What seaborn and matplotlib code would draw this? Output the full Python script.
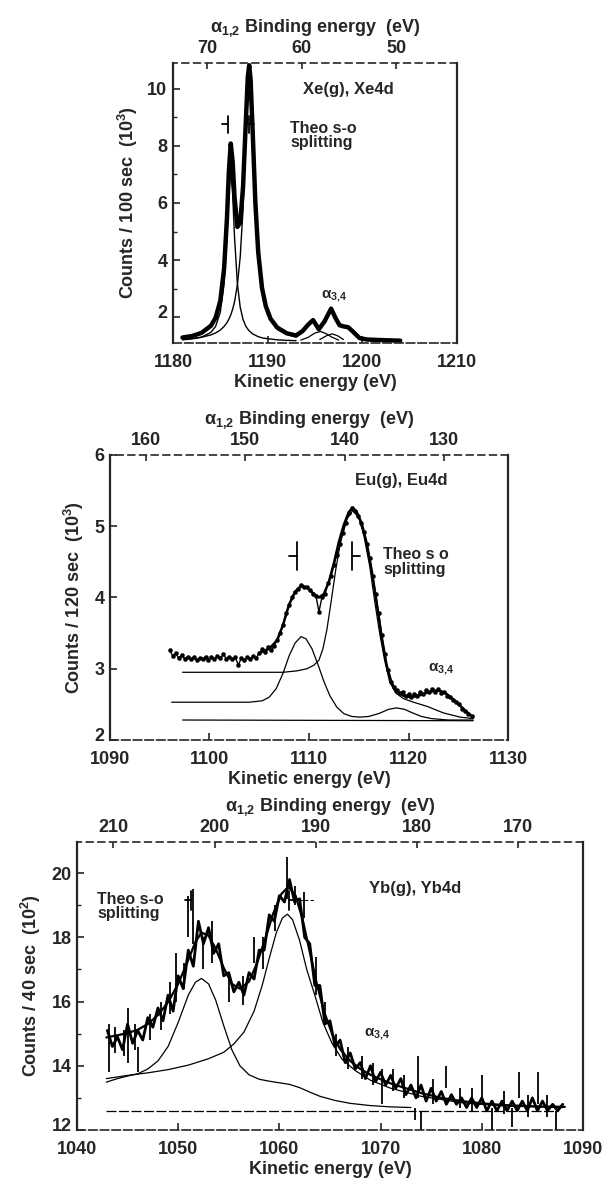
import matplotlib
matplotlib.use("Agg")
import matplotlib.pyplot as plt
import matplotlib.transforms as mtransforms
import seaborn as sns

PHOTON = 1253.6  # Mg K alpha 1,2 photon energy, binding = PHOTON - kinetic

# ---------------- Xe(g), Xe 4d ----------------
xe_ke = [1181.0, 1182.0, 1183.0, 1184.0, 1184.5, 1185.0, 1185.4, 1185.7, 1185.9, 1186.1,
         1186.3, 1186.5, 1186.8, 1187.1, 1187.4, 1187.7, 1187.9, 1188.05, 1188.2, 1188.4,
         1188.7, 1189.0, 1189.4, 1189.8, 1190.3, 1191.0, 1192.0, 1193.0, 1193.7, 1194.3,
         1194.8, 1195.4, 1196.0, 1196.7, 1197.2, 1197.6, 1198.0, 1198.5, 1199.0, 1199.7,
         1200.5, 1202.0, 1204.0]
xe_counts = [1.29, 1.34, 1.45, 1.70, 1.98, 2.58, 3.71, 5.47, 7.10, 8.08,
             7.45, 6.20, 5.16, 5.31, 6.57, 8.89, 10.41, 10.82, 10.30, 8.63,
             6.01, 4.28, 3.03, 2.39, 1.95, 1.64, 1.44, 1.36, 1.52, 1.75,
             1.90, 1.58, 1.85, 2.30, 1.95, 1.72, 1.68, 1.65, 1.50, 1.27,
             1.22, 1.20, 1.18]
xe_fit_ke = [1181.0, 1182.0, 1183.0, 1184.0, 1184.5, 1185.0, 1185.4, 1185.7, 1185.9, 1186.1,
             1186.3, 1186.5, 1186.8, 1187.1, 1187.4, 1187.7, 1188.0, 1188.4, 1189.0, 1189.5,
             1190.0, 1191.0, 1192.0, 1193.0]
xe_fit_a = [1.21, 1.24, 1.30, 1.47, 1.68, 2.18, 3.18, 4.81, 6.32, 7.15,
            6.32, 4.81, 3.18, 2.35, 1.92, 1.68, 1.54, 1.42, 1.32, 1.27,
            1.25, 1.21, 1.19, 1.18]
xe_fit_b = [1.23, 1.26, 1.30, 1.38, 1.45, 1.55, 1.68, 1.81, 1.93, 2.08,
            2.28, 2.54, 3.13, 4.11, 5.80, 8.36, 10.40, 8.36, 4.11, 2.71,
            2.08, 1.58, 1.40, 1.31]
xe_sat1_ke = [1193.5, 1194.3, 1195.0, 1195.6, 1196.2, 1196.8, 1197.5]
xe_sat1 = [1.20, 1.30, 1.45, 1.50, 1.42, 1.30, 1.20]
xe_sat2_ke = [1195.5, 1196.2, 1196.8, 1197.4, 1198.0]
xe_sat2 = [1.22, 1.35, 1.42, 1.35, 1.22]
xe_theo_ke = [1185.8, 1188.0]
xe_theo_level = 8.75

# ---------------- Eu(g), Eu 4d ----------------
eu_ke = [1096.0, 1096.3, 1096.6, 1096.9, 1097.2, 1097.5, 1097.8, 1098.1, 1098.4, 1098.7,
         1099.0, 1099.3, 1099.6, 1099.9, 1100.2, 1100.5, 1100.8, 1101.1, 1101.4, 1101.7,
         1102.0, 1102.3, 1102.6, 1102.9, 1103.2, 1103.5, 1103.8, 1104.1, 1104.4, 1104.7,
         1105.0, 1105.3, 1105.6, 1105.9, 1106.2, 1106.5, 1106.8, 1107.1, 1107.4, 1107.7,
         1108.0, 1108.3, 1108.6, 1108.9, 1109.2, 1109.5, 1109.8, 1110.1, 1110.4, 1110.7,
         1111.0, 1111.3, 1111.6, 1111.9, 1112.2, 1112.5, 1112.8, 1113.1, 1113.4, 1113.7,
         1114.0, 1114.3, 1114.6, 1114.9, 1115.2, 1115.5, 1115.8, 1116.1, 1116.4, 1116.7,
         1117.0, 1117.3, 1117.6, 1117.9, 1118.2, 1118.5, 1118.8, 1119.1, 1119.4, 1119.7,
         1120.0, 1120.3, 1120.6, 1120.9, 1121.2, 1121.5, 1121.8, 1122.1, 1122.4, 1122.7,
         1123.0, 1123.3, 1123.6, 1123.9, 1124.2, 1124.5, 1124.8, 1125.1, 1125.4, 1125.7,
         1126.0, 1126.4]
eu_counts = [3.26, 3.18, 3.22, 3.15, 3.19, 3.14, 3.17, 3.13, 3.16, 3.12,
             3.15, 3.13, 3.17, 3.12, 3.16, 3.14, 3.18, 3.15, 3.20, 3.14,
             3.17, 3.13, 3.16, 3.05, 3.15, 3.12, 3.16, 3.14, 3.18, 3.15,
             3.22, 3.27, 3.24, 3.30, 3.26, 3.32, 3.40, 3.50, 3.62, 3.78,
             3.90, 4.00, 4.08, 4.12, 4.18, 4.15, 4.14, 4.10, 4.05, 4.02,
             3.80, 4.00, 4.05, 4.20, 4.30, 4.45, 4.60, 4.75, 4.90, 5.05,
             5.18, 5.25, 5.22, 5.15, 5.05, 4.92, 4.75, 4.55, 4.30, 4.05,
             3.78, 3.48, 3.20, 2.98, 2.82, 2.74, 2.70, 2.66, 2.68, 2.62,
             2.64, 2.60, 2.65, 2.62, 2.68, 2.64, 2.70, 2.67, 2.72, 2.68,
             2.72, 2.66, 2.68, 2.62, 2.60, 2.56, 2.53, 2.50, 2.44, 2.40,
             2.36, 2.33]
eu_fit_ke = [1105.0, 1106.0, 1106.8, 1107.4, 1108.0, 1108.6, 1109.2, 1109.8, 1110.4, 1111.0,
             1111.5, 1112.0, 1112.5, 1113.0, 1113.5, 1114.0, 1114.4, 1114.8, 1115.3, 1115.8,
             1116.3, 1116.8, 1117.3, 1117.8, 1118.3, 1118.8, 1119.5, 1120.2, 1121.0, 1121.8,
             1122.6, 1123.2, 1123.8, 1124.5, 1125.2, 1125.8, 1126.5]
eu_fit = [3.22, 3.28, 3.40, 3.62, 3.90, 4.08, 4.16, 4.14, 4.06, 4.00,
          4.05, 4.22, 4.48, 4.78, 5.02, 5.20, 5.26, 5.20, 5.04, 4.76,
          4.38, 3.92, 3.45, 3.05, 2.80, 2.68, 2.62, 2.60, 2.62, 2.66,
          2.69, 2.69, 2.65, 2.57, 2.48, 2.40, 2.32]
eu_a_ke = [1096.2, 1104.0, 1105.3, 1106.0, 1106.7, 1107.4, 1108.0, 1108.6, 1109.2, 1109.7,
           1110.3, 1110.9, 1111.5, 1112.1, 1112.8, 1113.5, 1114.3, 1115.1, 1116.0, 1117.0,
           1118.0, 1118.8, 1119.6, 1120.4, 1121.3, 1122.3, 1124.0, 1126.5]
eu_a = [2.53, 2.53, 2.55, 2.60, 2.72, 2.94, 3.18, 3.36, 3.45, 3.42,
        3.28, 3.06, 2.82, 2.62, 2.46, 2.37, 2.33, 2.32, 2.33, 2.37,
        2.43, 2.45, 2.43, 2.38, 2.33, 2.30, 2.28, 2.28]
eu_b_ke = [1097.3, 1103.0, 1107.4, 1108.8, 1109.8, 1110.5, 1111.0, 1111.4, 1111.8, 1112.2,
           1112.7, 1113.2, 1113.8, 1114.4, 1115.0, 1115.5, 1116.1, 1116.6, 1117.1, 1117.6,
           1118.1, 1118.7, 1119.5, 1120.5, 1121.9, 1123.5, 1125.2, 1126.5]
eu_b = [2.95, 2.95, 2.95, 2.97, 3.00, 3.05, 3.12, 3.28, 3.55, 3.92,
        4.40, 4.80, 5.10, 5.22, 5.12, 4.88, 4.44, 3.95, 3.50, 3.12,
        2.82, 2.66, 2.58, 2.53, 2.47, 2.38, 2.32, 2.30]
eu_base_ke = [1097.3, 1126.5]
eu_base = [2.28, 2.27]
eu_theo_ke = [1108.8, 1114.3]
eu_theo_level = 4.58

# ---------------- Yb(g), Yb 4d ----------------
yb_ke = [1043.0, 1043.5, 1044.0, 1044.5, 1045.0, 1045.5, 1046.0, 1046.5, 1047.0, 1047.5,
         1048.0, 1048.5, 1049.0, 1049.5, 1050.0, 1050.5, 1051.0, 1051.5, 1052.0, 1052.5,
         1053.0, 1053.5, 1054.0, 1054.5, 1055.0, 1055.5, 1056.0, 1056.5, 1057.0, 1057.5,
         1058.0, 1058.5, 1059.0, 1059.5, 1060.0, 1060.5, 1061.0, 1061.5, 1062.0, 1062.5,
         1063.0, 1063.5, 1064.0, 1064.5, 1065.0, 1065.5, 1066.0, 1066.5, 1067.0, 1067.5,
         1068.0, 1068.5, 1069.0, 1069.5, 1070.0, 1070.5, 1071.0, 1071.5, 1072.0, 1072.5,
         1073.0, 1073.5, 1074.0, 1074.5, 1075.0, 1075.5, 1076.0, 1076.5, 1077.0, 1077.5,
         1078.0, 1078.5, 1079.0, 1079.5, 1080.0, 1080.5, 1081.0, 1081.5, 1082.0, 1082.5,
         1083.0, 1083.5, 1084.0, 1084.5, 1085.0, 1085.5, 1086.0, 1086.5, 1087.0, 1087.5,
         1088.0]
yb_counts = [15.1, 14.6, 14.9, 14.5, 15.3, 14.7, 15.1, 14.8, 15.5, 15.2,
             15.8, 15.4, 16.2, 15.7, 16.8, 16.4, 17.6, 17.1, 18.5, 17.8,
             18.3, 17.5, 17.8, 16.8, 16.9, 16.3, 16.6, 16.2, 16.9, 16.7,
             17.6, 17.6, 18.7, 18.5, 19.3, 19.1, 19.8, 19.1, 19.2, 18.0,
             17.8, 16.5, 16.5, 15.3, 15.4, 14.6, 14.8, 14.1, 14.4, 13.9,
             14.1, 13.6, 14.0, 13.5, 13.8, 13.4, 13.7, 13.3, 13.6, 13.1,
             13.4, 13.0, 13.4, 12.9, 13.3, 12.9, 13.2, 12.8, 13.1, 12.8,
             13.0, 12.7, 13.0, 12.7, 13.0, 12.6, 12.9, 12.6, 12.9, 12.6,
             12.9, 12.6, 12.9, 12.6, 13.0, 12.6, 12.9, 12.6, 12.8, 12.6,
             12.8]
yb_spike_ke = [1043.2, 1043.8, 1044.6, 1045.0, 1045.7, 1046.0, 1047.2, 1048.3, 1049.2, 1049.8,
               1050.6, 1051.0, 1051.5, 1052.5, 1053.3, 1055.0, 1056.4, 1057.5, 1058.4, 1059.6,
               1060.8, 1061.5, 1062.4, 1063.6, 1064.5, 1065.6, 1066.8, 1068.2, 1069.3, 1070.1,
               1071.2, 1072.3, 1073.4, 1073.7, 1074.0, 1075.2, 1076.5, 1077.8, 1079.0, 1080.0,
               1081.0, 1082.2, 1083.0, 1083.7, 1084.6, 1085.6, 1086.4, 1087.3]
yb_spike_lo = [13.8, 14.4, 14.3, 14.1, 14.5, 13.8, 14.8, 15.1, 15.6, 16.0,
               16.4, 18.0, 17.8, 17.0, 17.2, 16.0, 15.9, 17.2, 17.0, 18.2,
               19.2, 19.0, 18.6, 16.2, 15.3, 14.3, 13.9, 13.6, 13.4, 12.8,
               13.2, 13.0, 12.3, 13.0, 12.0, 12.8, 13.3, 12.7, 12.6, 13.0,
               12.0, 12.5, 12.1, 13.0, 12.4, 12.8, 12.4, 12.0]
yb_spike_hi = [15.3, 15.2, 15.1, 15.8, 15.3, 14.6, 15.6, 16.0, 16.6, 17.5,
               17.2, 19.3, 19.5, 18.0, 18.5, 16.8, 16.8, 18.0, 18.0, 19.0,
               20.5, 19.6, 19.4, 17.4, 16.0, 15.0, 14.6, 14.3, 14.1, 13.9,
               13.9, 13.7, 12.7, 14.3, 12.6, 13.6, 14.0, 13.3, 13.3, 13.7,
               12.7, 13.2, 12.7, 13.8, 13.1, 13.8, 13.1, 12.6]
yb_fit_ke = [1042.9, 1044.0, 1045.0, 1046.0, 1047.0, 1048.0, 1049.0, 1050.0, 1051.0, 1051.7,
             1052.3, 1053.0, 1053.7, 1054.5, 1055.3, 1056.1, 1057.0, 1057.8, 1058.6, 1059.4,
             1060.2, 1060.9, 1061.6, 1062.3, 1063.0, 1063.7, 1064.4, 1065.2, 1066.0, 1067.0,
             1068.0, 1069.0, 1070.0, 1071.0, 1072.5, 1074.0, 1076.0, 1078.0, 1080.0, 1082.0,
             1084.0, 1086.0, 1088.2]
yb_fit = [14.88, 14.95, 15.02, 15.12, 15.30, 15.58, 15.98, 16.55, 17.30, 17.85,
          18.15, 18.05, 17.65, 17.05, 16.55, 16.40, 16.62, 17.20, 17.95, 18.75,
          19.35, 19.58, 19.30, 18.55, 17.55, 16.55, 15.70, 15.00, 14.52, 14.15,
          13.90, 13.72, 13.58, 13.45, 13.30, 13.15, 13.00, 12.90, 12.83, 12.78,
          12.75, 12.73, 12.72]
yb_a_ke = [1042.9, 1044.0, 1045.0, 1046.0, 1047.0, 1048.0, 1049.0, 1050.0, 1051.0, 1051.7,
           1052.3, 1053.0, 1053.7, 1054.5, 1055.3, 1056.1, 1057.0, 1058.0, 1059.0, 1060.0,
           1061.0, 1062.0, 1063.0, 1064.0, 1065.5, 1067.0, 1069.0, 1071.0, 1073.0]
yb_a = [13.49, 13.60, 13.68, 13.75, 13.90, 14.15, 14.60, 15.35, 16.20, 16.60,
        16.72, 16.55, 16.05, 15.25, 14.50, 14.00, 13.72, 13.58, 13.52, 13.47,
        13.42, 13.32, 13.18, 13.05, 12.92, 12.83, 12.76, 12.72, 12.70]
yb_b_ke = [1042.9, 1045.0, 1047.0, 1049.0, 1051.0, 1053.0, 1054.5, 1055.5, 1056.5, 1057.5,
           1058.3, 1059.0, 1059.7, 1060.3, 1060.8, 1061.3, 1062.0, 1062.7, 1063.5, 1064.3,
           1065.2, 1066.2, 1067.5, 1069.0, 1071.0, 1074.0, 1078.0, 1082.0, 1088.0]
yb_b = [13.60, 13.70, 13.78, 13.88, 14.02, 14.22, 14.42, 14.68, 15.05, 15.70,
        16.50, 17.35, 18.15, 18.60, 18.72, 18.55, 17.90, 17.00, 16.20, 15.35,
        14.70, 14.20, 13.85, 13.55, 13.30, 13.05, 12.85, 12.75, 12.70]
yb_base_ke = [1042.9, 1087.5]
yb_base = [12.58, 12.58]
yb_theo_ke = [1051.3, 1061.0]
yb_theo_level = 19.15

sns.set_style("ticks")
plt.rcParams["font.family"] = ["Liberation Sans", "DejaVu Sans"]
plt.rcParams["font.weight"] = "bold"
plt.rcParams["mathtext.default"] = "regular"

fig = plt.figure(figsize=(6.1, 11.83), dpi=100)


def line(ax, x, y, lw, ls="-"):
    sns.lineplot(x=x, y=y, ax=ax, color="black", linewidth=lw, linestyle=ls,
                 sort=False, estimator=None)


def theo(ax, ke, level, hh, tw, right_dash=False):
    # "Theo s-o splitting" markers: -| at the first line, |- at the second
    ax.plot([ke[0], ke[0]], [level - hh, level + hh], color="black", lw=1.3)
    ax.plot([ke[0] - tw, ke[0]], [level, level], color="black", lw=1.3)
    ax.plot([ke[1], ke[1]], [level - hh, level + hh], color="black", lw=1.3)
    ax.plot([ke[1], ke[1] + tw], [level, level], color="black", lw=1.3)
    if right_dash:
        ax.plot([ke[1] + tw * 1.5, ke[1] + tw * 4], [level, level], color="black",
                lw=0.8, ls=(0, (3, 2)))


def frame(ax, xlim, ylim, xticks, yticks, top_ticks, ylabel, ypad, minor=None):
    ax.set_xlim(*xlim)
    ax.set_ylim(*ylim)
    ax.set_xticks(xticks)
    ax.set_yticks(yticks)
    if minor is not None:
        ax.set_yticks(minor, minor=True)
    ax.tick_params(direction="in", length=5, width=1.2, labelsize=13)
    ax.tick_params(axis="x", pad=8)
    ax.tick_params(axis="y", pad=4)
    ax.tick_params(which="minor", direction="in", length=3, width=1.0)
    ax.set_xlabel("Kinetic energy (eV)", fontsize=13, fontweight="bold", labelpad=2)
    ax.set_ylabel(ylabel, fontsize=13, fontweight="bold", labelpad=ypad)
    # lowest count label sits a little above the corner, clear of the energy labels
    lowest = ax.get_yticklabels()[0]
    lowest.set_transform(lowest.get_transform() +
                         mtransforms.ScaledTranslation(0, 4 / 72, fig.dpi_scale_trans))
    for s in ["left", "right"]:
        ax.spines[s].set_linewidth(1.6)
    ax.spines["bottom"].set_linewidth(1.2)
    ax.spines["bottom"].set_linestyle((0, (5, 2)))
    ax.spines["top"].set_visible(False)
    sec = ax.secondary_xaxis("top", functions=(lambda k: PHOTON - k, lambda b: PHOTON - b))
    sec.set_xticks(top_ticks)
    sec.tick_params(direction="in", length=4, width=1.2, labelsize=13, pad=4)
    sec.spines["top"].set_linewidth(1.2)
    sec.spines["top"].set_linestyle((0, (4, 3)))
    sec.set_xlabel(r"$\alpha_{1{,}2}$ Binding energy  (eV)", fontsize=13,
                   fontweight="bold", labelpad=6)
    return sec


# ---- panel 1: Xe ----
ax1 = fig.add_axes([0.2836, 0.7101, 0.4656, 0.2367])
line(ax1, xe_fit_ke, xe_fit_a, 1.0)
line(ax1, xe_fit_ke, xe_fit_b, 1.0)
line(ax1, xe_sat1_ke, xe_sat1, 0.9)
line(ax1, xe_sat2_ke, xe_sat2, 0.9)
line(ax1, xe_ke, xe_counts, 3.2)
theo(ax1, xe_theo_ke, xe_theo_level, 0.3, 0.6)
frame(ax1, (1180, 1210), (1.1, 10.9), [1180, 1190, 1200, 1210], [2, 4, 6, 8, 10],
      [70, 60, 50], r"Counts / 100 sec  (10$^3$)", 5, minor=[3, 5, 7, 9])
ax1.text(0.458, 0.904, "Xe(g), Xe4d", transform=ax1.transAxes, fontsize=12,
         fontweight="bold", va="center", ha="left")
ax1.text(0.412, 0.74, "Theo s-o\nsplitting", transform=ax1.transAxes, fontsize=11.5,
         fontweight="bold", va="center", ha="left", linespacing=0.95)
ax1.text(1195.6, 2.45, r"$\alpha_{3{,}4}$", fontsize=11, fontweight="bold",
         va="bottom", ha="left")

# ---- panel 2: Eu ----
ax2 = fig.add_axes([0.1803, 0.3745, 0.6525, 0.2409])
line(ax2, eu_base_ke, eu_base, 0.9)
line(ax2, eu_a_ke, eu_a, 0.9)
line(ax2, eu_b_ke, eu_b, 0.9)
line(ax2, eu_ke, eu_counts, 1.0)
sns.scatterplot(x=eu_ke, y=eu_counts, ax=ax2, color="black", s=9, edgecolor=None)
line(ax2, eu_fit_ke, eu_fit, 1.8)
theo(ax2, eu_theo_ke, eu_theo_level, 0.2, 0.8)
frame(ax2, (1090, 1130), (2, 6), [1090, 1100, 1110, 1120, 1130], [2, 3, 4, 5, 6],
      [160, 150, 140, 130], r"Counts / 120 sec  (10$^3$)", 6)
ax2.text(0.616, 0.912, "Eu(g), Eu4d", transform=ax2.transAxes, fontsize=12,
         fontweight="bold", va="center", ha="left")
ax2.text(0.686, 0.625, "Theo s o\nsplitting", transform=ax2.transAxes, fontsize=11.5,
         fontweight="bold", va="center", ha="left", linespacing=0.95)
ax2.text(1122.0, 2.88, r"$\alpha_{3{,}4}$", fontsize=11, fontweight="bold",
         va="bottom", ha="left")

# ---- panel 3: Yb ----
ax3 = fig.add_axes([0.1262, 0.0448, 0.8295, 0.2435])
line(ax3, yb_base_ke, yb_base, 0.9, ls=(0, (8, 2)))
line(ax3, yb_a_ke, yb_a, 0.9)
line(ax3, yb_b_ke, yb_b, 0.9)
line(ax3, yb_ke, yb_counts, 2.0)
ax3.vlines(yb_spike_ke, yb_spike_lo, yb_spike_hi, color="black", linewidth=1.3)
line(ax3, yb_fit_ke, yb_fit, 1.6)
theo(ax3, yb_theo_ke, yb_theo_level, 0.3, 0.6, right_dash=True)
frame(ax3, (1040, 1090), (12, 20.97), [1040, 1050, 1060, 1070, 1080, 1090],
      [12, 14, 16, 18, 20], [210, 200, 190, 180, 170], r"Counts / 40 sec  (10$^2$)", 6,
      minor=[13, 15, 17, 19])
ax3.text(0.577, 0.84, "Yb(g), Yb4d", transform=ax3.transAxes, fontsize=12,
         fontweight="bold", va="center", ha="left")
ax3.text(0.04, 0.775, "Theo s-o\nsplitting", transform=ax3.transAxes, fontsize=11.5,
         fontweight="bold", va="center", ha="left", linespacing=0.95)
ax3.text(1068.4, 14.75, r"$\alpha_{3{,}4}$", fontsize=11, fontweight="bold",
         va="bottom", ha="left")

fig.savefig("out.png", dpi=100)
